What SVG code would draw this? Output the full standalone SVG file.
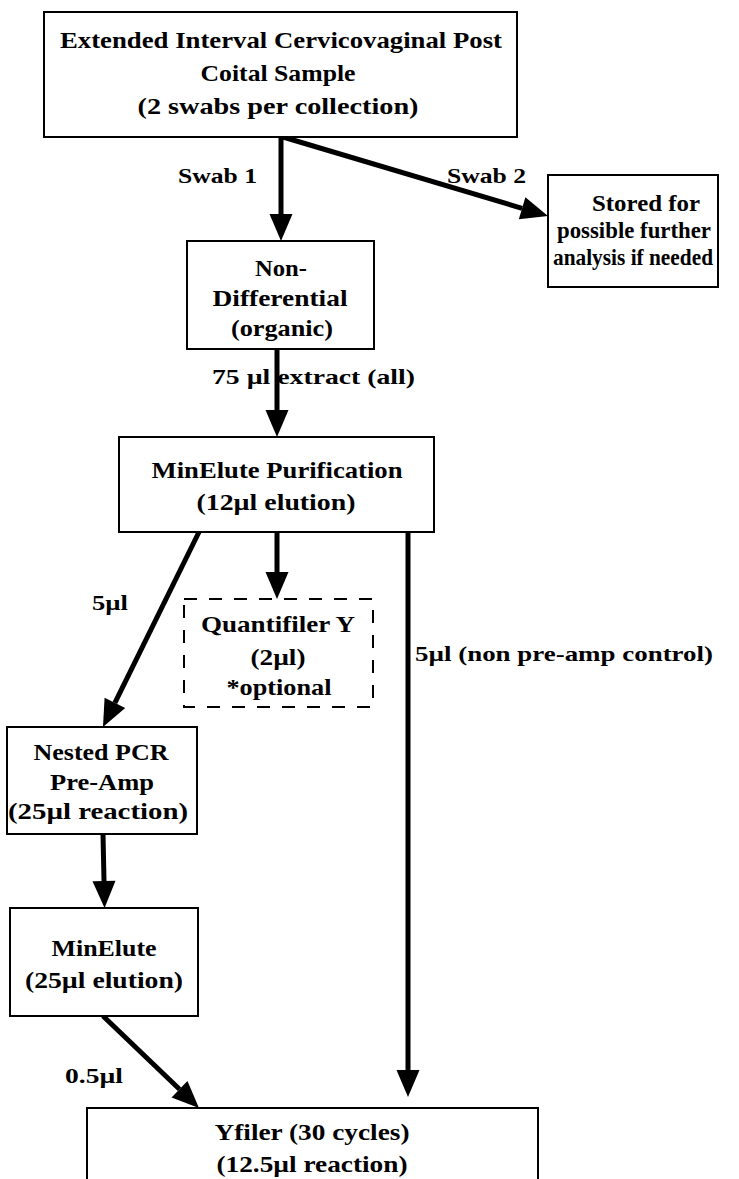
<svg xmlns="http://www.w3.org/2000/svg" width="739" height="1179" viewBox="0 0 739 1179">
<style>
.box{fill:#fff;stroke:#000;stroke-width:2}
.dash{fill:#fff;stroke:#000;stroke-width:2;stroke-dasharray:13 12}
.t{font-family:'Liberation Serif','Times New Roman',Times,serif;font-weight:700;font-size:24px;fill:#000;text-anchor:middle}
.s{font-family:'Liberation Serif','Times New Roman',Times,serif;font-weight:700;font-size:22px;fill:#000}
.c{stroke:#000;stroke-width:5;fill:none;marker-end:url(#ah)}
</style>
<defs>
<marker id="ah" markerUnits="userSpaceOnUse" markerWidth="27" markerHeight="23" refX="0" refY="11.5" orient="auto" overflow="visible">
<path d="M0,0 L27,11.5 L0,23 Z" fill="#000"/>
</marker>
</defs>
<rect width="739" height="1179" fill="#fff"/>
<g id="connectors">
<line class="c" x1="281" y1="137" x2="281" y2="214"/>
<line class="c" x1="283" y1="137" x2="522.1" y2="208.3"/>
<line class="c" x1="277" y1="349" x2="277" y2="410"/>
<line class="c" x1="277" y1="532" x2="277" y2="572"/>
<line class="c" x1="199" y1="532" x2="114.9" y2="702.8"/>
<line class="c" x1="103" y1="834" x2="104" y2="881"/>
<line class="c" x1="103" y1="1016" x2="179.5" y2="1089.3"/>
<line class="c" x1="408" y1="532" x2="408" y2="1070"/>
<text class="s" x="178" y="183" textLength="79" lengthAdjust="spacingAndGlyphs">Swab 1</text>
<text class="s" x="447" y="183" textLength="79" lengthAdjust="spacingAndGlyphs">Swab 2</text>
<text class="s" x="212" y="384" textLength="203" lengthAdjust="spacingAndGlyphs">75 µl extract (all)</text>
<text class="s" x="92" y="610" textLength="36" lengthAdjust="spacingAndGlyphs">5µl</text>
<text class="s" x="415" y="661" textLength="298" lengthAdjust="spacingAndGlyphs">5µl (non pre-amp control)</text>
<text class="s" x="65" y="1083" textLength="58" lengthAdjust="spacingAndGlyphs">0.5µl</text>
</g>
<g id="n1">
<rect class="box" x="44" y="12" width="473" height="125"/>
<text class="t" x="281" y="48" textLength="442" lengthAdjust="spacingAndGlyphs">Extended Interval Cervicovaginal Post</text>
<text class="t" x="278" y="81" textLength="155" lengthAdjust="spacingAndGlyphs">Coital Sample</text>
<text class="t" x="278" y="114" textLength="281" lengthAdjust="spacingAndGlyphs">(2 swabs per collection)</text>
</g>
<g id="n2">
<rect class="box" x="187" y="241" width="187" height="108"/>
<text class="t" x="281" y="276" textLength="52" lengthAdjust="spacingAndGlyphs">Non-</text>
<text class="t" x="280" y="306" textLength="135" lengthAdjust="spacingAndGlyphs">Differential</text>
<text class="t" x="282" y="336" textLength="102" lengthAdjust="spacingAndGlyphs">(organic)</text>
</g>
<g id="n3">
<rect class="box" x="548" y="175" width="170" height="112"/>
<text class="t" x="646" y="211" font-size="22" textLength="108" lengthAdjust="spacingAndGlyphs">Stored for</text>
<text class="t" x="634" y="238" font-size="22" textLength="154" lengthAdjust="spacingAndGlyphs">possible further</text>
<text class="t" x="633" y="265" font-size="22" textLength="160" lengthAdjust="spacingAndGlyphs">analysis if needed</text>
</g>
<g id="n4">
<rect class="box" x="119" y="437" width="315" height="95"/>
<text class="t" x="277" y="478" textLength="251" lengthAdjust="spacingAndGlyphs">MinElute Purification</text>
<text class="t" x="276" y="510" textLength="159" lengthAdjust="spacingAndGlyphs">(12µl elution)</text>
</g>
<g id="n5">
<rect class="dash" x="184" y="599" width="189" height="108"/>
<text class="t" x="278" y="632" textLength="154" lengthAdjust="spacingAndGlyphs">Quantifiler Y</text>
<text class="t" x="278" y="665" textLength="55" lengthAdjust="spacingAndGlyphs">(2µl)</text>
<text class="t" x="279" y="695" textLength="105" lengthAdjust="spacingAndGlyphs">*optional</text>
</g>
<g id="n6">
<rect class="box" x="7" y="727" width="190" height="107"/>
<text class="t" x="101" y="760" textLength="135" lengthAdjust="spacingAndGlyphs">Nested PCR</text>
<text class="t" x="102" y="790" textLength="104" lengthAdjust="spacingAndGlyphs">Pre-Amp</text>
<text class="t" x="98" y="819" textLength="180" lengthAdjust="spacingAndGlyphs">(25µl reaction)</text>
</g>
<g id="n7">
<rect class="box" x="10" y="908" width="188" height="108"/>
<text class="t" x="104" y="956" textLength="105" lengthAdjust="spacingAndGlyphs">MinElute</text>
<text class="t" x="104" y="988" textLength="158" lengthAdjust="spacingAndGlyphs">(25µl elution)</text>
</g>
<g id="n8">
<rect class="box" x="87" y="1108" width="451" height="100"/>
<text class="t" x="312" y="1140" textLength="195" lengthAdjust="spacingAndGlyphs">Yfiler (30 cycles)</text>
<text class="t" x="312" y="1172" textLength="191" lengthAdjust="spacingAndGlyphs">(12.5µl reaction)</text>
</g>
</svg>
